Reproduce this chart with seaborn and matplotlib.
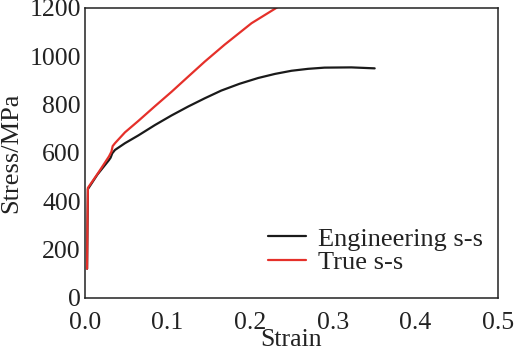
import matplotlib
matplotlib.use("Agg")
import matplotlib.pyplot as plt
import seaborn as sns
import pandas as pd

# Engineering stress-strain curve
eng_strain = [0.0025, 0.003, 0.0035, 0.015, 0.029, 0.031, 0.033, 0.0363, 0.0484, 0.0645,
              0.0846, 0.1048, 0.125, 0.145, 0.165, 0.187, 0.2096, 0.23, 0.25, 0.27,
              0.29, 0.3225, 0.3507]
eng_stress = [120, 300, 450, 510, 570, 580, 598, 612, 640, 672,
              715, 755, 792, 826, 858, 886, 910, 927, 940, 948,
              953, 954, 950]

# True stress-strain curve
true_strain = [0.0025, 0.003, 0.0035, 0.015, 0.029, 0.032, 0.0335, 0.0363, 0.0484, 0.0645,
               0.0846, 0.1048, 0.125, 0.145, 0.169, 0.2016, 0.2338]
true_stress = [120, 300, 455, 512, 585, 605, 628, 640, 685, 732,
               793, 853, 916, 978, 1048, 1137, 1205]

x_ticks = [0.0, 0.1, 0.2, 0.3, 0.4, 0.5]
y_ticks = [0, 200, 400, 600, 800, 1000, 1200]

sns.set_theme(style="white")
plt.rcParams['font.family'] = ['Liberation Serif', 'DejaVu Serif']

df = pd.concat([
    pd.DataFrame({"Strain": eng_strain, "Stress": eng_stress, "Curve": "Engineering s-s"}),
    pd.DataFrame({"Strain": true_strain, "Stress": true_stress, "Curve": "True s-s"}),
], ignore_index=True)

fig = plt.figure(figsize=(5.15, 3.52), dpi=100)
ax = fig.add_axes([85/515, 1-297.7/352, (498-85)/515, (297.7-8)/352])

sns.lineplot(data=df, x="Strain", y="Stress", hue="Curve", sort=False,
             palette={"Engineering s-s": "#1a1a1a", "True s-s": "#e5302a"},
             linewidth=1.6, ax=ax, estimator=None)

ax.set_xlim(0, 0.5)
ax.set_ylim(0, 1200)
ax.set_xticks(x_ticks)
ax.set_xticklabels([f"{t:.1f}" for t in x_ticks])
ax.set_yticks(y_ticks)
ax.set_yticklabels([str(t) for t in y_ticks])
ax.tick_params(direction="in", length=5, width=1, colors="#222222", labelsize=18.5,
               labelcolor="#222222")
ax.tick_params(axis="x", pad=10)
ax.tick_params(axis="y", pad=3)
for s in ax.spines.values():
    s.set_color("#222222")
    s.set_linewidth(1.1)
ax.set_xlabel("Strain", fontsize=18.5, color="#222222", labelpad=-3)
ax.set_ylabel("Stress/MPa", fontsize=19, color="#222222", labelpad=5)

leg = ax.legend(loc="lower right", bbox_to_anchor=(0.99, 0.045), frameon=False,
                fontsize=19, handlelength=1.45, handletextpad=0.45, labelspacing=0.0,
                borderaxespad=0)
for t in leg.get_texts():
    t.set_color("#222222")

fig.savefig("out.png", dpi=100)
